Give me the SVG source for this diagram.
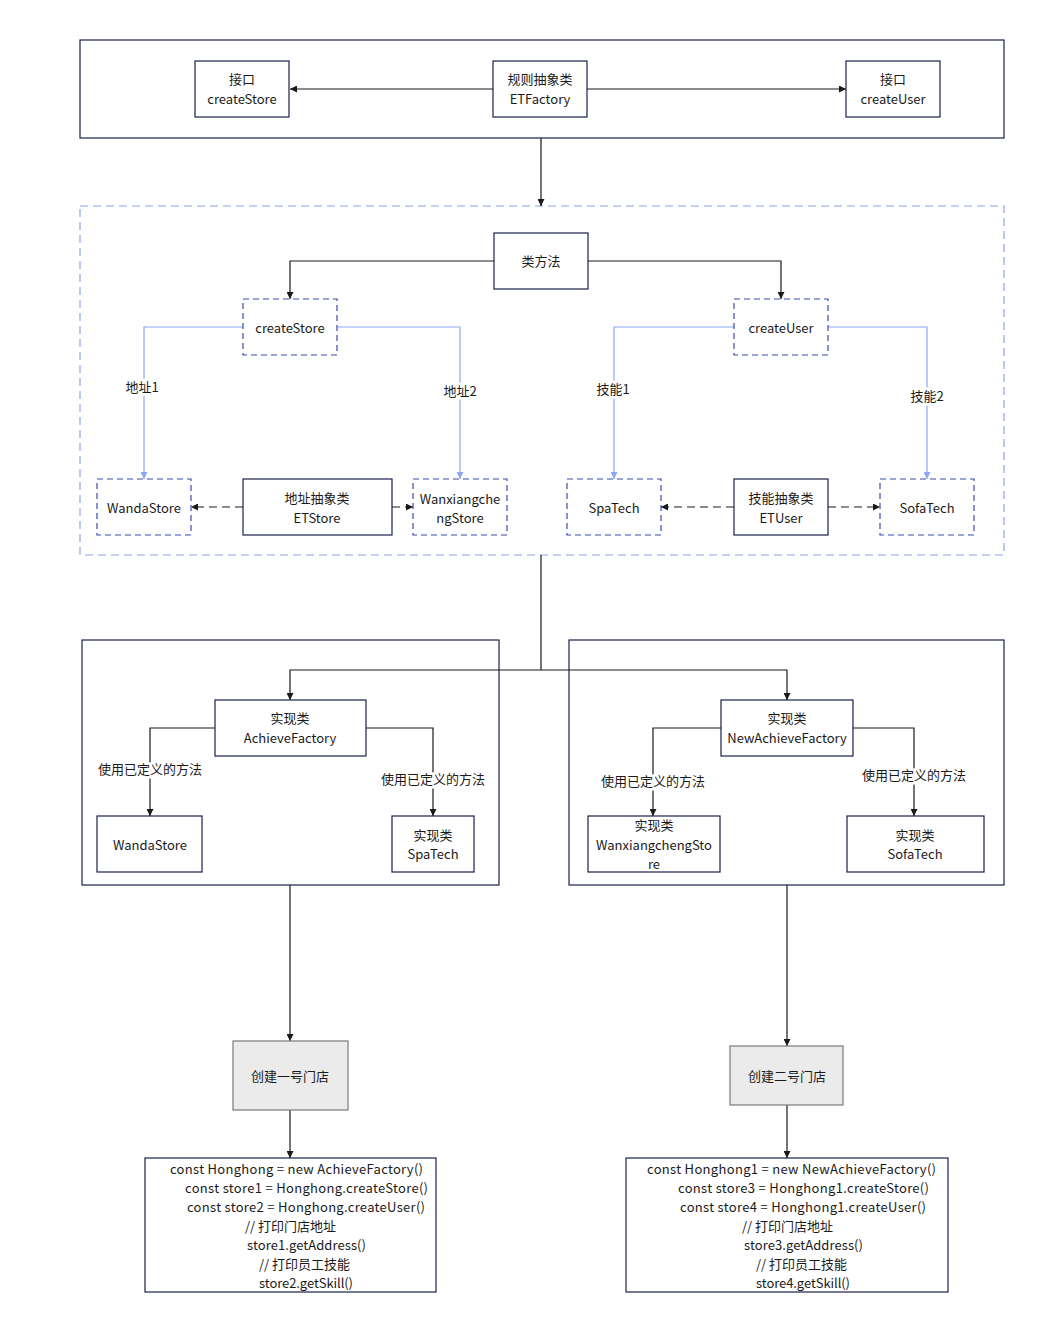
<svg xmlns="http://www.w3.org/2000/svg" width="1043" height="1334" viewBox="0 0 1043 1334">
<style>
text{font-family:"Microsoft YaHei","Noto Sans CJK SC","Noto Sans",sans-serif;font-size:13px;fill:#1a1a1a}
.c{text-anchor:middle}
.node{fill:#fff;stroke:#1c2150;stroke-width:1.2}
.dnode{fill:#fff;stroke:#3a4ab0;stroke-width:1.2;stroke-dasharray:6 4}
.cont{fill:none;stroke:#1c2150;stroke-width:1.2}
.dcont{fill:none;stroke:#8fa2e6;stroke-width:1.2;stroke-dasharray:8 5}
.gray{fill:#ebebeb;stroke:#7a7a7a;stroke-width:1.2}
.ln{fill:none;stroke:#1a1a1a;stroke-width:1.2}
.bl{fill:none;stroke:#8da6f5;stroke-width:1.2}
.dl{fill:none;stroke:#1a1a1a;stroke-width:1.2;stroke-dasharray:8 5}
.lbl{text-anchor:middle;stroke:#fff;stroke-width:5;paint-order:stroke}
</style>
<defs>
<marker id="ab" viewBox="0 0 10 10" refX="10" refY="5" markerWidth="7" markerHeight="7" markerUnits="userSpaceOnUse" orient="auto"><path d="M0,0 L10,5 L0,10 z" fill="#1a1a1a"/></marker>
<marker id="au" viewBox="0 0 10 10" refX="10" refY="5" markerWidth="7" markerHeight="7" markerUnits="userSpaceOnUse" orient="auto"><path d="M0,0 L10,5 L0,10 z" fill="#8da6f5"/></marker>
</defs>
<rect width="1043" height="1334" fill="#fff"/>
<g id="containers">
<rect class="cont" x="80" y="40" width="924" height="98"/>
<rect class="dcont" x="80" y="206" width="924" height="349"/>
<rect class="cont" x="82" y="640" width="417" height="245"/>
<rect class="cont" x="569" y="640" width="435" height="245"/>
</g>
<g id="connectors">
<path class="ln" d="M493,89 H290" marker-end="url(#ab)"/>
<path class="ln" d="M587,89 H846" marker-end="url(#ab)"/>
<path class="ln" d="M541,138 V206" marker-end="url(#ab)"/>
<path class="ln" d="M494,261 H290 V299" marker-end="url(#ab)"/>
<path class="ln" d="M588,261 H781 V299" marker-end="url(#ab)"/>
<path class="bl" d="M243,327 H144 V479" marker-end="url(#au)"/>
<path class="bl" d="M337,327 H460 V479" marker-end="url(#au)"/>
<path class="bl" d="M734,327 H614 V479" marker-end="url(#au)"/>
<path class="bl" d="M828,327 H927 V479" marker-end="url(#au)"/>
<path class="dl" d="M243,507 H191" marker-end="url(#ab)"/>
<path class="dl" d="M392,507 H413" marker-end="url(#ab)"/>
<path class="dl" d="M734,507 H661" marker-end="url(#ab)"/>
<path class="dl" d="M828,507 H880" marker-end="url(#ab)"/>
<path class="ln" d="M541,555 V670"/>
<path class="ln" d="M541,670 H290 V700" marker-end="url(#ab)"/>
<path class="ln" d="M541,670 H787 V700" marker-end="url(#ab)"/>
<path class="ln" d="M215,728 H150 V816" marker-end="url(#ab)"/>
<path class="ln" d="M366,728 H433 V816" marker-end="url(#ab)"/>
<path class="ln" d="M721,728 H653 V816" marker-end="url(#ab)"/>
<path class="ln" d="M853,728 H914 V816" marker-end="url(#ab)"/>
<path class="ln" d="M290,885 V1041" marker-end="url(#ab)"/>
<path class="ln" d="M290,1110 V1158" marker-end="url(#ab)"/>
<path class="ln" d="M787,885 V1046" marker-end="url(#ab)"/>
<path class="ln" d="M787,1105 V1158" marker-end="url(#ab)"/>
<text class="lbl" x="142" y="392">地址1</text>
<text class="lbl" x="460" y="396">地址2</text>
<text class="lbl" x="613" y="394">技能1</text>
<text class="lbl" x="927" y="401">技能2</text>
<text class="lbl" x="150" y="774">使用已定义的方法</text>
<text class="lbl" x="433" y="784">使用已定义的方法</text>
<text class="lbl" x="653" y="786">使用已定义的方法</text>
<text class="lbl" x="914" y="780">使用已定义的方法</text>
</g>
<g id="n-if-store"><rect class="node" x="195" y="61" width="94" height="56"/><text class="c" x="242" y="84">接口</text><text class="c" x="242" y="104">createStore</text></g>
<g id="n-etfactory"><rect class="node" x="493" y="61" width="94" height="56"/><text class="c" x="540" y="84">规则抽象类</text><text class="c" x="540" y="104">ETFactory</text></g>
<g id="n-if-user"><rect class="node" x="846" y="61" width="94" height="56"/><text class="c" x="893" y="84">接口</text><text class="c" x="893" y="104">createUser</text></g>
<g id="n-classmethod"><rect class="node" x="494" y="233" width="94" height="56"/><text class="c" x="541" y="266">类方法</text></g>
<g id="n-createstore"><rect class="dnode" x="243" y="299" width="94" height="56"/><text class="c" x="290" y="333">createStore</text></g>
<g id="n-createuser"><rect class="dnode" x="734" y="299" width="94" height="56"/><text class="c" x="781" y="333">createUser</text></g>
<g id="n-wanda1"><rect class="dnode" x="97" y="479" width="94" height="56"/><text class="c" x="144" y="513">WandaStore</text></g>
<g id="n-etstore"><rect class="node" x="243" y="479" width="149" height="56"/><text class="c" x="317" y="503">地址抽象类</text><text class="c" x="317" y="523">ETStore</text></g>
<g id="n-wanxiang1"><rect class="dnode" x="413" y="479" width="94" height="56"/><text class="c" x="460" y="504">Wanxiangche</text><text class="c" x="460" y="523">ngStore</text></g>
<g id="n-spa1"><rect class="dnode" x="567" y="479" width="94" height="56"/><text class="c" x="614" y="513">SpaTech</text></g>
<g id="n-etuser"><rect class="node" x="734" y="479" width="94" height="56"/><text class="c" x="781" y="503">技能抽象类</text><text class="c" x="781" y="523">ETUser</text></g>
<g id="n-sofa1"><rect class="dnode" x="880" y="479" width="94" height="56"/><text class="c" x="927" y="513">SofaTech</text></g>
<g id="n-achieve"><rect class="node" x="215" y="700" width="151" height="56"/><text class="c" x="290" y="723">实现类</text><text class="c" x="290" y="743">AchieveFactory</text></g>
<g id="n-newachieve"><rect class="node" x="721" y="700" width="132" height="56"/><text class="c" x="787" y="723">实现类</text><text class="c" x="787" y="743">NewAchieveFactory</text></g>
<g id="n-wanda2"><rect class="node" x="97" y="816" width="105" height="56"/><text class="c" x="150" y="850">WandaStore</text></g>
<g id="n-spa2"><rect class="node" x="392" y="816" width="82" height="56"/><text class="c" x="433" y="840">实现类</text><text class="c" x="433" y="859">SpaTech</text></g>
<g id="n-wanxiang2"><rect class="node" x="588" y="816" width="132" height="56"/><text class="c" x="654" y="830">实现类</text><text class="c" x="654" y="850">WanxiangchengSto</text><text class="c" x="654" y="869">re</text></g>
<g id="n-sofa2"><rect class="node" x="847" y="816" width="137" height="56"/><text class="c" x="915" y="840">实现类</text><text class="c" x="915" y="859">SofaTech</text></g>
<g id="n-store1"><rect class="gray" x="233" y="1041" width="115" height="69"/><text class="c" x="290" y="1081">创建一号门店</text></g>
<g id="n-store2"><rect class="gray" x="730" y="1046" width="113" height="59"/><text class="c" x="787" y="1081">创建二号门店</text></g>
<g id="n-code1"><rect class="node" x="145" y="1158" width="291" height="134"/>
<text x="170" y="1174" textLength="253" lengthAdjust="spacing">const Honghong = new AchieveFactory()</text>
<text x="185" y="1193" textLength="243" lengthAdjust="spacing">const store1  = Honghong.createStore()</text>
<text x="187" y="1212" textLength="238" lengthAdjust="spacing">const store2 = Honghong.createUser()</text>
<text x="245" y="1231">// 打印门店地址</text>
<text x="247" y="1250" textLength="119" lengthAdjust="spacing">store1.getAddress()</text>
<text x="259" y="1269">// 打印员工技能</text>
<text x="259" y="1288" textLength="94" lengthAdjust="spacing">store2.getSkill()</text>
</g>
<g id="n-code2"><rect class="node" x="626" y="1158" width="322" height="134"/>
<text x="647" y="1174" textLength="289" lengthAdjust="spacing">const Honghong1  = new NewAchieveFactory()</text>
<text x="678" y="1193" textLength="251" lengthAdjust="spacing">const store3  = Honghong1.createStore()</text>
<text x="680" y="1212" textLength="246" lengthAdjust="spacing">const store4  = Honghong1.createUser()</text>
<text x="742" y="1231">// 打印门店地址</text>
<text x="744" y="1250" textLength="119" lengthAdjust="spacing">store3.getAddress()</text>
<text x="756" y="1269">// 打印员工技能</text>
<text x="756" y="1288" textLength="94" lengthAdjust="spacing">store4.getSkill()</text>
</g>
</svg>
